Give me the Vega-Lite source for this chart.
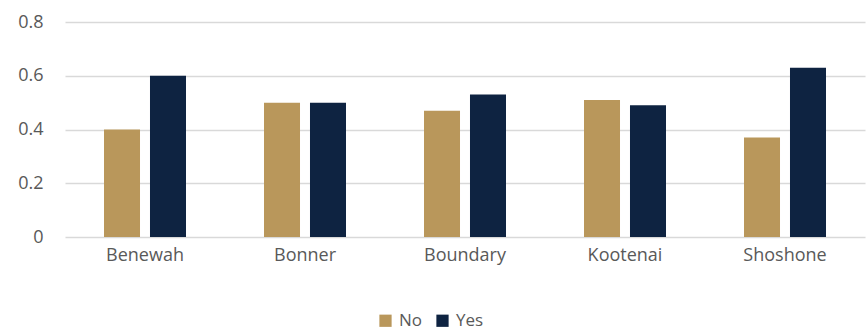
{
  "$schema": "https://vega.github.io/schema/vega-lite/v6.json",
  "autosize": "none",
  "width": 800,
  "height": 215,
  "padding": {"left": 65, "top": 22, "right": 2, "bottom": 96},
  "background": "white",
  "data": {
    "values": [
      {"county": "Benewah", "answer": "No", "value": 0.40},
      {"county": "Benewah", "answer": "Yes", "value": 0.60},
      {"county": "Bonner", "answer": "No", "value": 0.50},
      {"county": "Bonner", "answer": "Yes", "value": 0.50},
      {"county": "Boundary", "answer": "No", "value": 0.47},
      {"county": "Boundary", "answer": "Yes", "value": 0.53},
      {"county": "Kootenai", "answer": "No", "value": 0.51},
      {"county": "Kootenai", "answer": "Yes", "value": 0.49},
      {"county": "Shoshone", "answer": "No", "value": 0.37},
      {"county": "Shoshone", "answer": "Yes", "value": 0.63}
    ]
  },
  "mark": {"type": "bar"},
  "encoding": {
    "x": {
      "field": "county", "type": "nominal", "sort": null,
      "scale": {"paddingInner": 0.4875, "paddingOuter": 0.24375},
      "axis": {"title": null, "labelAngle": 0, "domain": false, "ticks": false, "labelPadding": 9, "labelFontSize": 18, "labelFont": "Open Sans", "labelColor": "#595959"}
    },
    "xOffset": {
      "field": "answer", "type": "nominal",
      "scale": {"paddingInner": 0.217, "paddingOuter": 0}
    },
    "y": {
      "field": "value", "type": "quantitative",
      "scale": {"domain": [0, 0.8]},
      "axis": {"title": null, "values": [0, 0.2, 0.4, 0.6, 0.8], "format": "~g", "domain": false, "ticks": false, "labelPadding": 22, "labelFontSize": 18, "labelFont": "Open Sans", "labelColor": "#595959", "gridColor": "#D9D9D9", "gridWidth": 1.3}
    },
    "color": {
      "field": "answer", "type": "nominal",
      "scale": {"domain": ["No", "Yes"], "range": ["#B9975B", "#0E2341"]},
      "legend": {"title": null, "orient": "none", "direction": "horizontal", "legendX": 312, "legendY": 290, "symbolType": "square", "symbolSize": 150, "symbolStrokeWidth": 0, "labelFontSize": 17, "labelFont": "Open Sans", "labelColor": "#595959", "columnPadding": 11, "labelOffset": 5}
    }
  },
  "config": {"view": {"stroke": null}}
}
